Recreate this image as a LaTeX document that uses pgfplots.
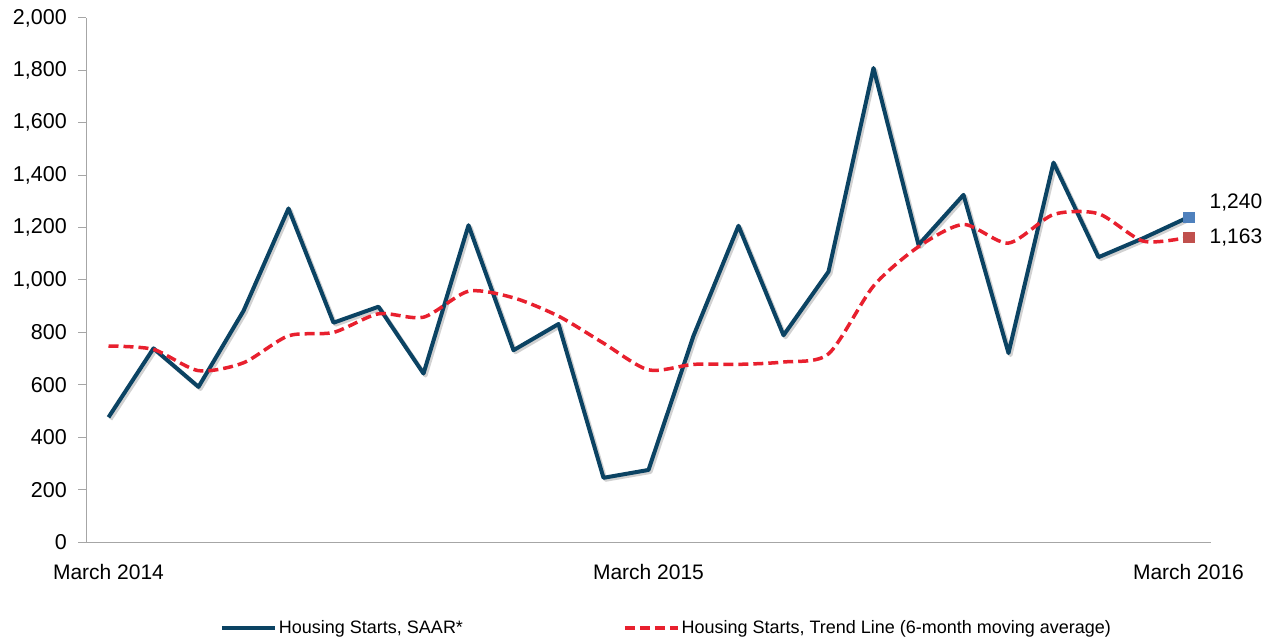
\documentclass[border=0pt]{standalone}
\usepackage{fontspec}
\setmainfont{Liberation Sans}
\usepackage{pgfplots}
\usepackage{pgfplotstable}
\pgfplotsset{compat=1.18}
\definecolor{navy}{HTML}{0B4363}
\definecolor{trendred}{HTML}{E8202E}
\definecolor{axgray}{HTML}{A6A6A6}
\definecolor{mblue}{HTML}{4F81BD}
\definecolor{mred}{HTML}{C0504D}

\pgfplotstableread{
x starts trend
0 476 748
1 739 735
2 592 654
3 882 684
4 1273 787
5 837 800
6 898 871
7 643 858
8 1209 957
9 732 932
10 832 862
11 245 759
12 275 657
13 787 678
14 1207 678
15 789 687
16 1032 718
17 1809 977
18 1134 1127
19 1325 1212
20 721 1141
21 1448 1250
22 1087 1253
23 1160 1148
24 1240 1163
}\housing

\begin{document}
\begin{tikzpicture}
\useasboundingbox (0,0) rectangle (1273pt,642pt);
\begin{axis}[
  at={(86pt,100pt)}, anchor=south west,
  scale only axis, width=1125pt, height=524pt,
  xmin=-0.5, xmax=24.5, ymin=0, ymax=2000,
  separate axis lines,
  axis x line*=bottom, axis y line*=left,
  axis line style={draw=axgray, line width=1pt, -},
  xtick={0,12,24}, xticklabels={March 2014, March 2015, March 2016},
  ytick={0,200,...,2000},
  xtick style={draw=none},
  ytick style={draw=axgray, line width=1pt},
  tick align=outside, major tick length=8pt,
  scaled y ticks=false,
  /pgf/number format/assume math mode=true,
  yticklabel style={/pgf/number format/1000 sep={,}, font=\fontsize{21.5}{24}\selectfont, inner sep=0pt, anchor=east, xshift=-11pt},
  xticklabel style={font=\fontsize{21}{24}\selectfont, inner sep=0pt, anchor=north, yshift=-14pt},
  clip=false,
  legend style={at={(0.516,-0.164)}, anchor=center, draw=none, fill=none,
    font=\fontsize{18}{21}\selectfont, inner sep=0pt,
    /tikz/every even column/.append style={column sep=158pt}},
  legend columns=2,
  legend image code/.code={\draw[#1] (0pt,0pt) -- (53pt,0pt);},
]
\addplot[forget plot, draw=black, opacity=0.18, line width=4pt, line join=round, xshift=2pt, yshift=-2pt] table[x=x, y=starts] {\housing};
\addplot[draw=navy, line width=4pt, line join=round] table[x=x, y=starts] {\housing};
\addlegendentry{Housing Starts, SAAR*}
\addplot[draw=trendred, line width=3.5pt, dash pattern=on 10pt off 5pt, smooth, tension=0.45] table[x=x, y=trend] {\housing};
\addlegendentry{Housing Starts, Trend Line (6-month moving average)}
\addplot[forget plot, only marks, mark=square*, mark size=5.3pt, color=mblue] coordinates {(24,1240)};
\addplot[forget plot, only marks, mark=square*, mark size=5.3pt, color=mred] coordinates {(24,1163)};
\node[anchor=west, font=\fontsize{21}{24}\selectfont, inner sep=0pt] at (axis cs:24,1240) [xshift=21pt, yshift=15pt] {1,240};
\node[anchor=west, font=\fontsize{21}{24}\selectfont, inner sep=0pt] at (axis cs:24,1163) [xshift=21pt] {1,163};
\end{axis}
\end{tikzpicture}
\end{document}
